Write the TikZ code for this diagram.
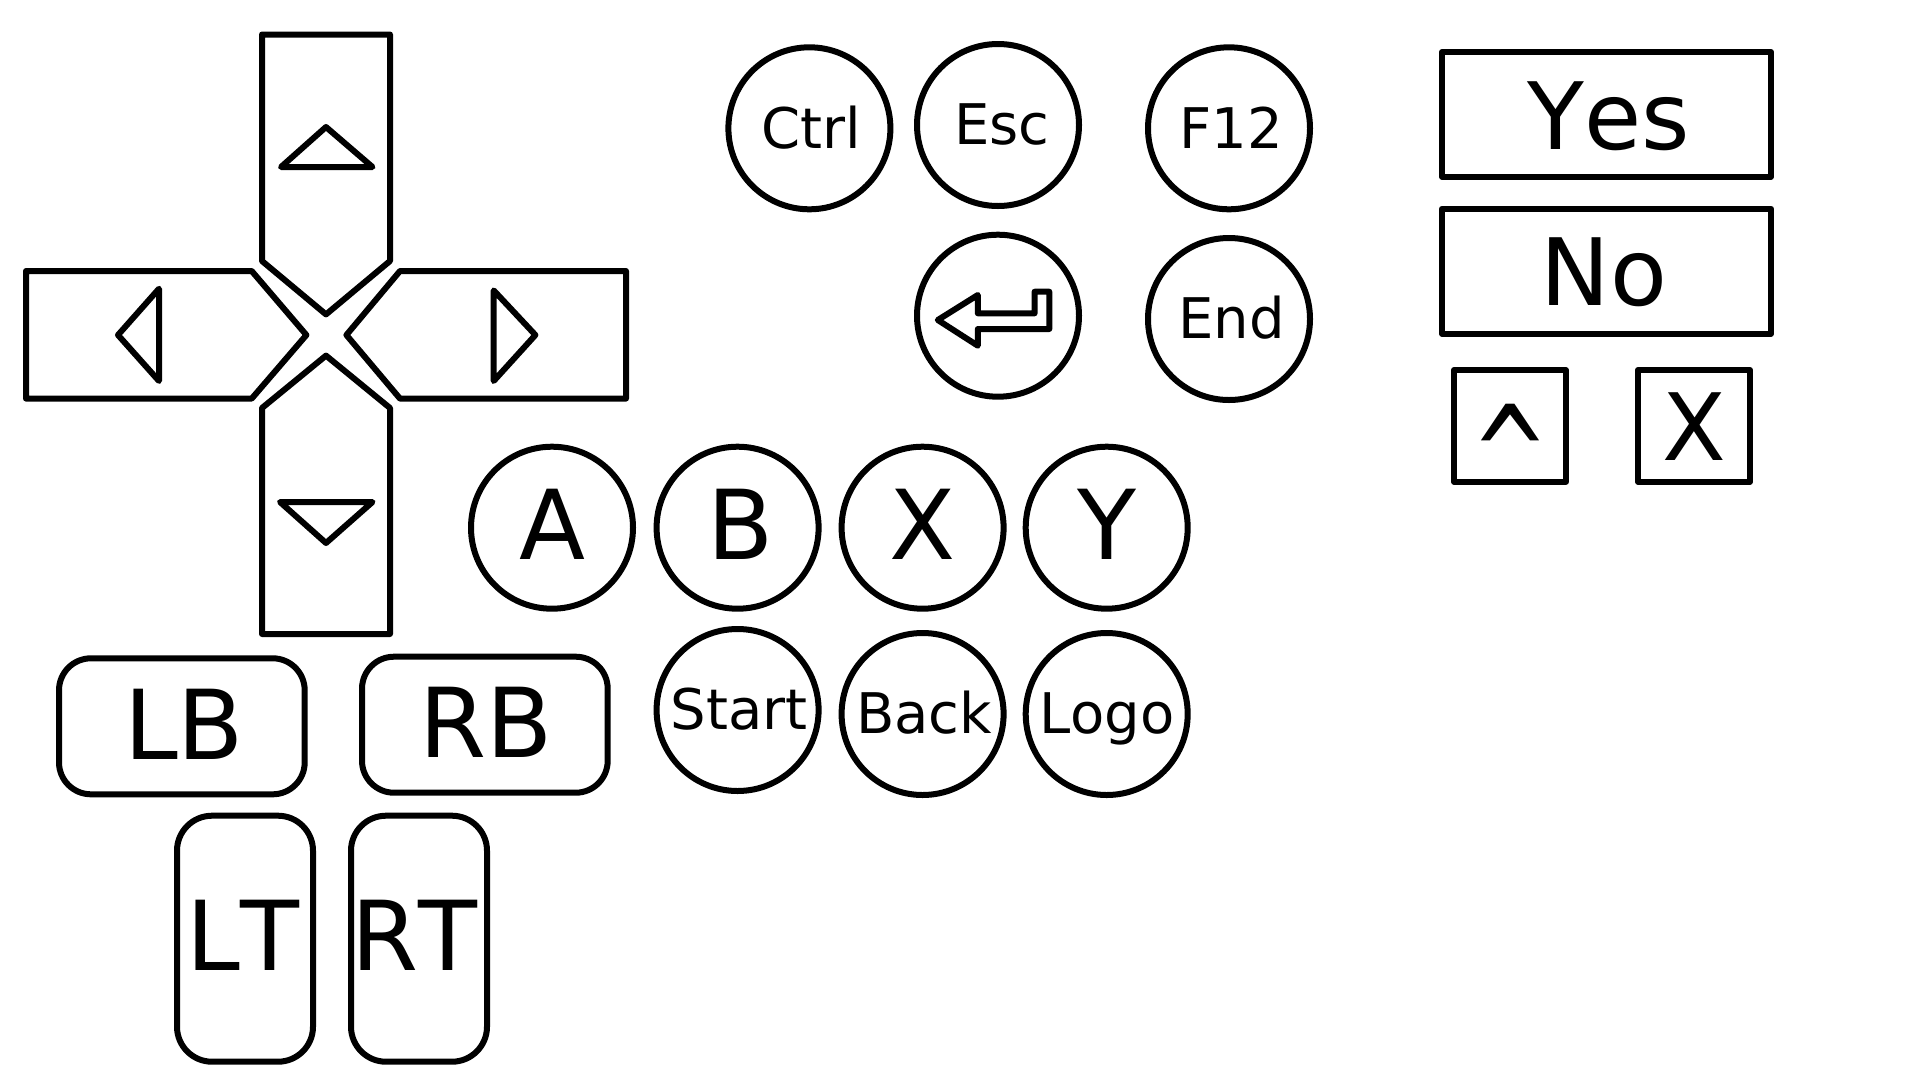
\documentclass[tikz,border=0pt]{standalone}
\usepackage{fontspec}
\setmainfont[Kerning=Off]{DejaVu Sans}
\tikzset{
  pad/.style={draw=black,line width=6pt,line join=round},
  bigkey/.style={anchor=base,inner sep=0pt,font=\fontsize{96.5}{96.5}\selectfont},
  dlgkey/.style={anchor=base,inner sep=0pt,font=\fontsize{93}{93}\selectfont},
  smallkey/.style={anchor=base,inner sep=0pt,font=\fontsize{56}{56}\selectfont}
}
\begin{document}
\begin{tikzpicture}[x=1pt,y=-1pt]
\useasboundingbox (0,0) rectangle (1920,1080);
% d-pad
\draw[pad] (262,34.5) -- (390,34.5) -- (390,261) -- (326,314.4) -- (262,261) -- cycle;
\draw[pad] (326,127) -- (372.5,167) -- (281,167) -- cycle;
\draw[pad] (26,271) -- (251.7,271) -- (306.4,335) -- (251.7,398.6) -- (26,398.6) -- cycle;
\draw[pad] (118,335) -- (159,288.7) -- (159,381) -- cycle;
\draw[pad] (626,271) -- (400,271) -- (346.4,335) -- (400,398.6) -- (626,398.6) -- cycle;
\draw[pad] (535.4,335) -- (493.7,290.4) -- (493.7,381) -- cycle;
\draw[pad] (262,634) -- (390,634) -- (390,408) -- (326,355.6) -- (262,408) -- cycle;
\draw[pad] (326,543) -- (372.5,502) -- (280,502) -- cycle;

% keyboard
\draw[pad] (809.4,128.3) circle[radius=81];
\node[smallkey] (ctrl) at (811,148.3) {Ctrl};
\draw[pad] (998,125) circle[radius=81];
\node[smallkey] (esc) at (1001.8,144) {Esc};
\draw[pad] (1229,128.3) circle[radius=81];
\node[smallkey] (ftwelve) at (1231.5,148.3) {F12};
\draw[pad] (998,315.7) circle[radius=81];
\draw[pad] (937.8,320) -- (977.8,295) -- (977.8,313.3) -- (1034.6,313.3) -- (1034.6,291.7) -- (1049.3,291.7) -- (1049.3,329) -- (977.8,329) -- (977.8,345.7) -- cycle;
\draw[pad] (1229,319) circle[radius=81];
\node[smallkey] (end) at (1231.5,338.3) {End};

% face buttons
\draw[pad] (552,527.7) circle[radius=81];
\node[bigkey] (a) at (552.5,559) {A};
\draw[pad] (737.6,527.7) circle[radius=81];
\node[bigkey] (b) at (741,559) {B};
\draw[pad] (922.6,527.7) circle[radius=81];
\node[bigkey] (x) at (923,559) {X};
\draw[pad] (1106.7,527.7) circle[radius=81];
\node[bigkey] (y) at (1107,559) {Y};

\draw[pad] (737.6,710) circle[radius=81];
\node[smallkey] (start) at (739,729.3) {Start};
\draw[pad] (922.6,714) circle[radius=81];
\node[smallkey] (back) at (924,733.3) {Back};
\draw[pad] (1106.7,714) circle[radius=81];
\node[smallkey] (logo) at (1107,733.3) {Logo};

% shoulders
\draw[pad,rounded corners=32pt] (59,658.3) rectangle (304.7,794.3);
\node[bigkey] (lb) at (184,759.3) {LB};
\draw[pad,rounded corners=32pt] (362,656.7) rectangle (607.7,792.7);
\node[bigkey] (rb) at (486,757.3) {RB};
\draw[pad,rounded corners=35pt] (177,815.7) rectangle (313,1061.7);
\node[bigkey] (lt) at (243,970.7) {LT};
\draw[pad,rounded corners=35pt] (351,815.7) rectangle (487,1061.7);
\node[bigkey] (rt) at (414,970.7) {RT};

% dialog
\draw[pad] (1442,52) rectangle (1771,176.7);
\node[dlgkey] (yes) at (1609,149) {Yes};
\draw[pad] (1442,208.7) rectangle (1771,333.7);
\node[dlgkey] (no) at (1604,305) {No};
\draw[pad] (1454,370) rectangle (1565.7,481.7);
\node[dlgkey] (caret) at (1510,502) {\scalebox{1}[1.45]{\textasciicircum}};
\draw[pad] (1638,370) rectangle (1750,481.7);
\node[dlgkey] (close) at (1694,460) {X};
\end{tikzpicture}
\end{document}
